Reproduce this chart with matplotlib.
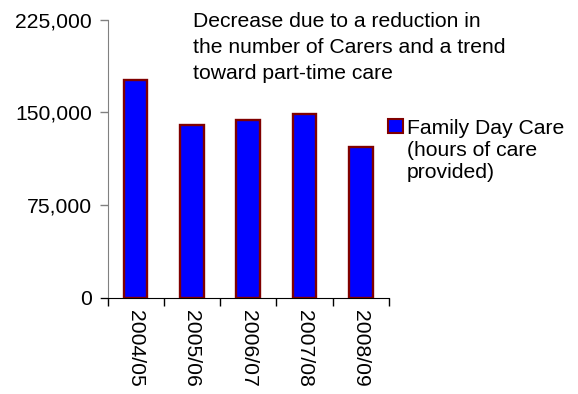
import matplotlib
matplotlib.use("Agg")
import matplotlib.pyplot as plt
from matplotlib.patches import Rectangle
from matplotlib.ticker import FuncFormatter

years = ["2004/05", "2005/06", "2006/07", "2007/08", "2008/09"]
hours = [176000, 140000, 144000, 149000, 122000]
y_ticks = [0, 75000, 150000, 225000]
series_label = "Family Day Care\n(hours of care\nprovided)"
note = ("Decrease due to a reduction in\n"
        "the number of Carers and a trend\n"
        "toward part-time care")

plt.rcParams["font.family"] = ["Liberation Sans", "DejaVu Sans"]
FS = 15.2

fig = plt.figure(figsize=(5.78, 3.94), dpi=100)
ax = fig.add_axes([0.186, 0.2437, 0.487, 0.7068])

x = list(range(len(years)))
ax.bar(x, hours, width=0.42, color="#0000FF", edgecolor="#800000",
       linewidth=1.7, zorder=3)

ax.set_xlim(-0.5, len(years) - 0.5)
ax.set_ylim(0, 225000)
ax.set_yticks(y_ticks)
ax.yaxis.set_major_formatter(FuncFormatter(lambda v, p: f"{int(v):,}"))

# category ticks sit between the bars
ax.set_xticks([i - 0.5 for i in range(len(years) + 1)], minor=False)
ax.set_xticklabels([""] * (len(years) + 1))
ax.set_xticks(x, minor=True)
ax.set_xticklabels(years, minor=True, rotation=-90, fontsize=FS)
ax.tick_params(axis="x", which="minor", length=0, pad=9)
ax.tick_params(axis="x", which="major", length=6, width=1, color="black")
ax.tick_params(axis="y", length=6, width=1, color="#808080", pad=5,
               labelsize=FS)

for s in ("top", "right"):
    ax.spines[s].set_visible(False)
ax.spines["left"].set_color("#808080")
ax.spines["bottom"].set_color("black")
ax.spines["bottom"].set_bounds(-0.5 - 6 / 56, len(years) - 0.5)

fig.text(0.334, 0.969, note, fontsize=FS, va="top", ha="left",
         linespacing=1.46)

# legend entry
fig.patches.append(Rectangle((388 / 578, 1 - 133 / 394), 15 / 578, 14 / 394,
                             transform=fig.transFigure, facecolor="#0000FF",
                             edgecolor="#800000", linewidth=1.5))
fig.text(407 / 578, 1 - 119 / 394, series_label, fontsize=FS, va="top",
         ha="left", linespacing=1.2)

fig.savefig("out.png", dpi=100)
